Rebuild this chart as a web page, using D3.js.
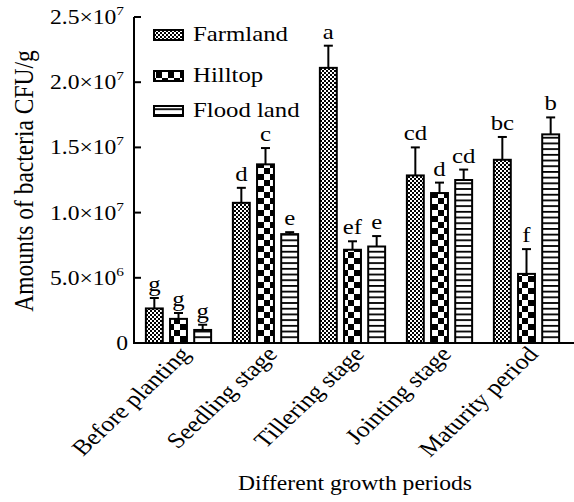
<!DOCTYPE html>
<html><head><meta charset="utf-8">
<script src="https://cdn.jsdelivr.net/npm/d3@7"></script>
<style>body{margin:0;background:#fff}svg{display:block}</style>
</head><body><svg id="c" width="574" height="502"></svg>
<script>
const categories = ["Before planting","Seedling stage","Tillering stage","Jointing stage","Maturity period"];
const seriesNames = ["Farmland","Hilltop","Flood land"];
const farmland = [2.65e6, 10.75e6, 21.1e6, 12.85e6, 14.05e6];
const hilltop  = [1.85e6, 13.7e6, 7.15e6, 11.5e6, 5.3e6];
const flood    = [1.0e6, 8.35e6, 7.4e6, 12.5e6, 16.0e6];
const farmlandErr = [0.8e6, 1.15e6, 1.7e6, 2.15e6, 1.75e6];
const hilltopErr  = [0.45e6, 1.25e6, 0.65e6, 0.8e6, 1.9e6];
const floodErr    = [0.4e6, 0.15e6, 0.8e6, 0.8e6, 1.3e6];
const farmlandSig = ["g","d","a","cd","bc"];
const hilltopSig  = ["g","c","ef","d","f"];
const floodSig    = ["g","e","e","cd","b"];
const yTickValues = [0, 5e6, 1e7, 1.5e7, 2e7, 2.5e7];
const yTickMantissa = ["0","5.0×10","1.0×10","1.5×10","2.0×10","2.5×10"];
const yTickExp = ["","6","7","7","7","7"];
const xTitle = "Different growth periods";
const yTitle = "Amounts of bacteria CFU/g";

const FONT = "'Liberation Serif', 'Times New Roman', 'DejaVu Serif', serif";
const SX = 1.18;
const svg = d3.select("#c");
const defs = svg.append("defs");
const p1 = defs.append("pattern").attr("id","pFarm").attr("patternUnits","userSpaceOnUse").attr("width",4).attr("height",4);
p1.append("rect").attr("width",4).attr("height",4).attr("fill","#fff");
p1.append("rect").attr("width",2).attr("height",2).attr("fill","#000");
p1.append("rect").attr("x",2).attr("y",2).attr("width",2).attr("height",2).attr("fill","#000");
const p2 = defs.append("pattern").attr("id","pHill").attr("patternUnits","userSpaceOnUse").attr("width",12).attr("height",12);
p2.append("rect").attr("width",12).attr("height",12).attr("fill","#fff");
p2.append("rect").attr("width",6).attr("height",6).attr("fill","#000");
p2.append("rect").attr("x",6).attr("y",6).attr("width",6).attr("height",6).attr("fill","#000");
const p3 = defs.append("pattern").attr("id","pFlood").attr("patternUnits","userSpaceOnUse").attr("width",6).attr("height",5.7);
p3.append("rect").attr("width",6).attr("height",5.7).attr("fill","#fff");
p3.append("rect").attr("y",0).attr("width",6).attr("height",1.8).attr("fill","#000");
const fills = ["url(#pFarm)","url(#pHill)","url(#pFlood)"];

const x0 = 134, x1 = 574, yTop = 17, yBot = 343;
const y = d3.scaleLinear().domain([0, 2.5e7]).range([yBot, yTop]);
const x = d3.scaleBand().domain(categories).range([135, 570]).paddingInner(0.25).paddingOuter(0.125);
const xs = d3.scaleBand().domain(seriesNames).range([0, x.bandwidth()]).paddingInner(0.3);

const series = [
  {name:"Farmland", vals:farmland, err:farmlandErr, sig:farmlandSig},
  {name:"Hilltop", vals:hilltop, err:hilltopErr, sig:hilltopSig},
  {name:"Flood land", vals:flood, err:floodErr, sig:floodSig}
];

function stext(g, tx, ty, str, size, anchor, rot, sx){
  const s = sx === undefined ? SX : sx;
  const gg = g.append("g").attr("transform",`translate(${tx},${ty}) scale(${s},1)` + (rot?` rotate(${rot})`:""));
  return gg.append("text").attr("text-anchor",anchor).attr("font-family",FONT).attr("font-size",size).attr("fill","#000").text(str);
}

const gBars = svg.append("g");
series.forEach((s, si) => {
  categories.forEach((c, ci) => {
    const bx = x(c) + xs(s.name), bw = xs.bandwidth();
    const cx = bx + bw/2;
    const top = y(s.vals[ci]), et = y(s.vals[ci] + s.err[ci]);
    gBars.append("line").attr("x1",cx).attr("x2",cx).attr("y1",top).attr("y2",et).attr("stroke","#000").attr("stroke-width",2);
    gBars.append("line").attr("x1",cx-4.5).attr("x2",cx+4.5).attr("y1",et).attr("y2",et).attr("stroke","#000").attr("stroke-width",2);
    gBars.append("rect").attr("x",bx).attr("y",top).attr("width",bw).attr("height",yBot-top)
      .attr("fill",fills[si]).attr("stroke","#000").attr("stroke-width",2);
    stext(gBars, cx, et-7, s.sig[ci], 21, "middle");
  });
});

const ax = svg.append("g");
ax.append("line").attr("x1",x0).attr("x2",x0).attr("y1",yTop).attr("y2",yBot+1).attr("stroke","#000").attr("stroke-width",2);
ax.append("line").attr("x1",x0-1).attr("x2",x1).attr("y1",yBot).attr("y2",yBot).attr("stroke","#000").attr("stroke-width",2);
yTickValues.forEach((v,i) => {
  const ty = y(v);
  if (i>0) ax.append("line").attr("x1",x0).attr("x2",x0+7).attr("y1",ty).attr("y2",ty).attr("stroke","#000").attr("stroke-width",2);
  if (i===0) {
    stext(ax, 128, ty+7, yTickMantissa[i], 20, "end");
  } else {
    const t = stext(ax, 124, ty+7, "", 20, "end");
    t.append("tspan").text(yTickMantissa[i]);
    t.append("tspan").attr("font-size",13).attr("dy",-9).text(yTickExp[i]);
  }
});
categories.forEach(c => {
  stext(ax, x(c)+x.bandwidth()/2+13, 355, c, 22, "end", -48);
});
stext(ax, 355, 490, xTitle, 20, "middle");
stext(ax, 33, 181, yTitle, 23.5, "middle", -90);

const lg = svg.append("g");
const legY = [35, 76, 111];
seriesNames.forEach((n,i) => {
  lg.append("rect").attr("x",154).attr("y",legY[i]-5).attr("width",29).attr("height",10)
    .attr("fill",fills[i]).attr("stroke","#000").attr("stroke-width",2);
  stext(lg, 193, legY[i]+6, n, 21, "start");
});
</script></body></html>
